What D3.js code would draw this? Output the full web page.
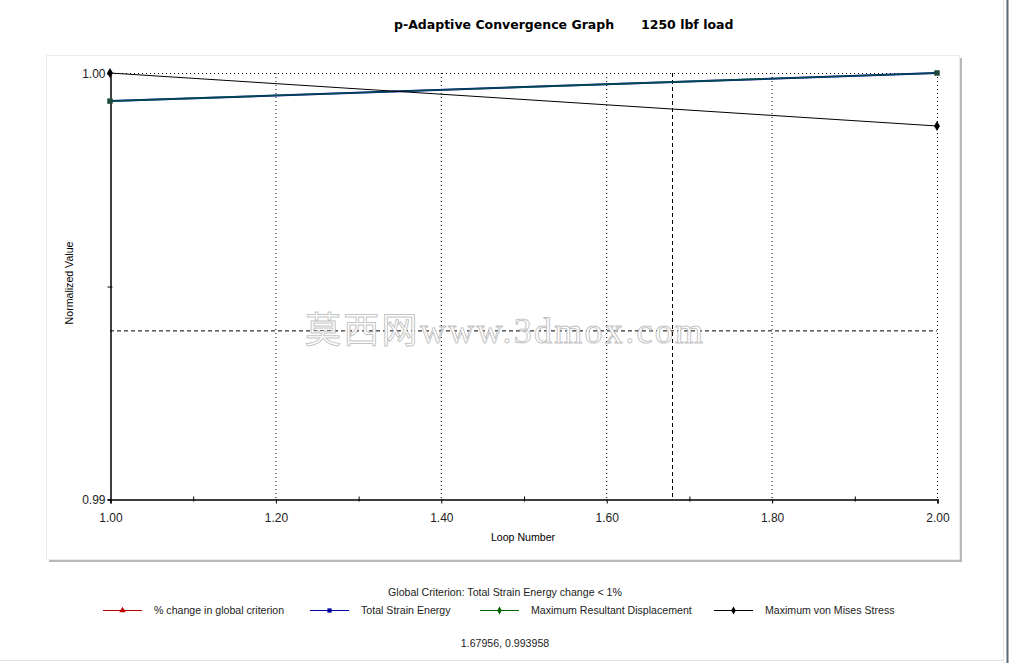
<html>
  <head>
    <script src="https://cdnjs.cloudflare.com/ajax/libs/d3/7.8.5/d3.min.js"></script>
    <style>
      body { margin: 0; background: #fff; }
      svg { display: block; font-family: "Liberation Sans", Arial, sans-serif; }
      .grid { stroke: #000; stroke-width: 1; stroke-dasharray: 1,3; }
      .cross { stroke: #000; stroke-width: 1; stroke-dasharray: 4,3; }
    </style>
  </head>
  <body>
    <svg width="1010" height="663"></svg>
    <script>
      // loop numbers and normalized values
      const loops = [1, 2];
      const strainEnergy = [0.99934, 1.0];
      const displacement = [0.99934, 1.0];
      const vonMises = [1.0, 0.998756];
      const xTicks = [1.0, 1.2, 1.4, 1.6, 1.8, 2.0];
      const xMinor = [1.1, 1.3, 1.5, 1.7, 1.9];
      const yTicks = [0.99, 1.0];
      const yMinor = [0.995];
      const cursor = [1.67956, 0.993958];
      const legendNames = ["% change in global criterion", "Total Strain Energy", "Maximum Resultant Displacement", "Maximum von Mises Stress"];
      const legendColors = ["#c00000", "#0000a0", "#006400", "#000000"];

      const svg = d3.select("svg");

      // window frame on the right
      svg.append("line").attr("x1", 1007.5).attr("x2", 1007.5).attr("y1", 0).attr("y2", 663)
        .attr("stroke", "#5a6878").attr("stroke-width", 2);
      svg.append("line").attr("x1", 1003.5).attr("x2", 1003.5).attr("y1", 0).attr("y2", 663)
        .attr("stroke", "#e4e4e4");
      svg.append("line").attr("x1", 0).attr("x2", 1003).attr("y1", 660.5).attr("y2", 660.5)
        .attr("stroke", "#e4e4e4");

      // chart panel with shadow
      svg.append("rect").attr("x", 49).attr("y", 58).attr("width", 913).attr("height", 504).attr("fill", "#b8b8b8");
      svg.append("rect").attr("x", 46.5).attr("y", 55.5).attr("width", 913).attr("height", 504)
        .attr("fill", "#fff").attr("stroke", "#ececec");

      const title = svg.append("text").attr("y", 29).attr("font-weight", "bold")
        .attr("font-family", "'DejaVu Sans', sans-serif").attr("font-size", 12.5);
      title.append("tspan").attr("x", 394).text("p-Adaptive Convergence Graph");
      title.append("tspan").attr("x", 641).text("1250 lbf load");

      const x = d3.scaleLinear().domain([1, 2]).range([110, 937]);
      const y = d3.scaleLinear().domain([0.99, 1.0]).range([499, 73]);

      // grid
      svg.append("g").selectAll("line").data(xTicks.slice(1)).join("line").attr("class", "grid")
        .attr("x1", d => x(d) + 0.5).attr("x2", d => x(d) + 0.5).attr("y1", y(1)).attr("y2", y(0.99));
      svg.append("line").attr("class", "grid").attr("x1", x(1)).attr("x2", x(2))
        .attr("y1", y(1) + 0.5).attr("y2", y(1) + 0.5);

      // cursor crosshair
      svg.append("line").attr("class", "cross").attr("x1", x(cursor[0]) + 0.5).attr("x2", x(cursor[0]) + 0.5)
        .attr("y1", y(1)).attr("y2", y(0.99));
      svg.append("line").attr("class", "cross").attr("x1", x(1)).attr("x2", x(2))
        .attr("y1", y(cursor[1]) + 0.5).attr("y2", y(cursor[1]) + 0.5);

      // axes
      const xAxis = svg.append("g").attr("transform", `translate(0.5,${y(0.99) + 0.5})`)
        .call(d3.axisBottom(x).tickValues(xTicks).tickFormat(d3.format(".2f")).tickSize(4).tickPadding(10));
      svg.append("g").attr("transform", `translate(0.5,${y(0.99) - 2.5})`)
        .call(d3.axisBottom(x).tickValues(xMinor).tickFormat("").tickSize(5))
        .call(g => g.select(".domain").remove());
      const yAxis = svg.append("g").attr("transform", `translate(${x(1) + 0.5},0.5)`)
        .call(d3.axisLeft(y).tickValues(yTicks).tickFormat(d3.format(".2f")).tickSize(3).tickPadding(2));
      svg.append("g").attr("transform", `translate(${x(1) + 2.5},0.5)`)
        .call(d3.axisLeft(y).tickValues(yMinor).tickFormat("").tickSize(5))
        .call(g => g.select(".domain").remove());
      [xAxis, yAxis].forEach(g => {
        g.selectAll("text").attr("font-size", 12).attr("font-family", "'Liberation Sans', Arial, sans-serif").attr("fill", "#222");
        g.select(".domain").attr("stroke-width", 1.5);
      });
      yAxis.selectAll("text").attr("dy", "0.35em");

      svg.append("text").attr("x", 523).attr("y", 541).attr("text-anchor", "middle").attr("font-size", 10.6)
        .text("Loop Number");
      svg.append("text").attr("transform", "translate(73,283) rotate(-90)").attr("text-anchor", "middle")
        .attr("font-size", 10.6).text("Normalized Value");

      // series
      const line = d3.line().x((d, i) => x(loops[i])).y(d => y(d));
      const series = [
        { values: strainEnergy, color: "#0000a0", op: 1, w: 2 },
        { values: displacement, color: "#006430", op: 0.75, w: 1.6 },
        { values: vonMises, color: "#000000", op: 1, w: 1 }
      ];
      series.forEach(s => {
        svg.append("path").attr("d", line(s.values)).attr("fill", "none")
          .attr("stroke", s.color).attr("stroke-opacity", s.op).attr("stroke-width", s.w);
      });
      const sq = d3.symbol().type(d3.symbolSquare).size(30);
      const dia = d3.symbol().type(d3.symbolDiamond).size(30);
      svg.append("g").selectAll("path").data(strainEnergy).join("path")
        .attr("transform", (d, i) => `translate(${x(loops[i])},${y(d)})`).attr("d", sq).attr("fill", "#1e4a3a");
      svg.append("g").selectAll("path").data(vonMises).join("path")
        .attr("transform", (d, i) => `translate(${x(loops[i])},${y(d)})`).attr("d", dia).attr("fill", "#000");

      // watermark
      svg.append("text").attr("x", 504).attr("y", 343).attr("text-anchor", "middle")
        .attr("font-family", "'Liberation Serif', 'Noto Sans CJK SC', serif").attr("font-size", 36).attr("fill", "#fff")
        .attr("stroke", "#888").attr("stroke-opacity", 0.5).attr("stroke-width", 1)
        .attr("textLength", 398).text("莫西网www.3dmox.com");

      // legend
      svg.append("text").attr("x", 505).attr("y", 596).attr("text-anchor", "middle").attr("font-size", 10.6)
        .attr("fill", "#222").text("Global Criterion: Total Strain Energy change < 1%");
      const legX = [103, 310, 480, 714];
      const shapes = [d3.symbolTriangle, d3.symbolSquare, d3.symbolDiamond, d3.symbolDiamond];
      const leg = svg.append("g").selectAll("g").data(legendNames).join("g")
        .attr("transform", (d, i) => `translate(${legX[i]},610)`);
      leg.append("line").attr("x1", 0).attr("x2", 39).attr("y1", 0.5).attr("y2", 0.5)
        .attr("stroke", (d, i) => legendColors[i]);
      leg.append("path").attr("transform", "translate(19.5,0.5)")
        .attr("d", (d, i) => d3.symbol().type(shapes[i]).size(18)())
        .attr("fill", (d, i) => legendColors[i]);
      leg.append("text").attr("x", 51).attr("y", 4).attr("font-size", 10.6).attr("fill", "#222").text(d => d);

      svg.append("text").attr("x", 505).attr("y", 647).attr("text-anchor", "middle").attr("font-size", 10.6)
        .attr("fill", "#222").text(`${cursor[0]}, ${cursor[1]}`);
    </script>
  </body>
</html>
